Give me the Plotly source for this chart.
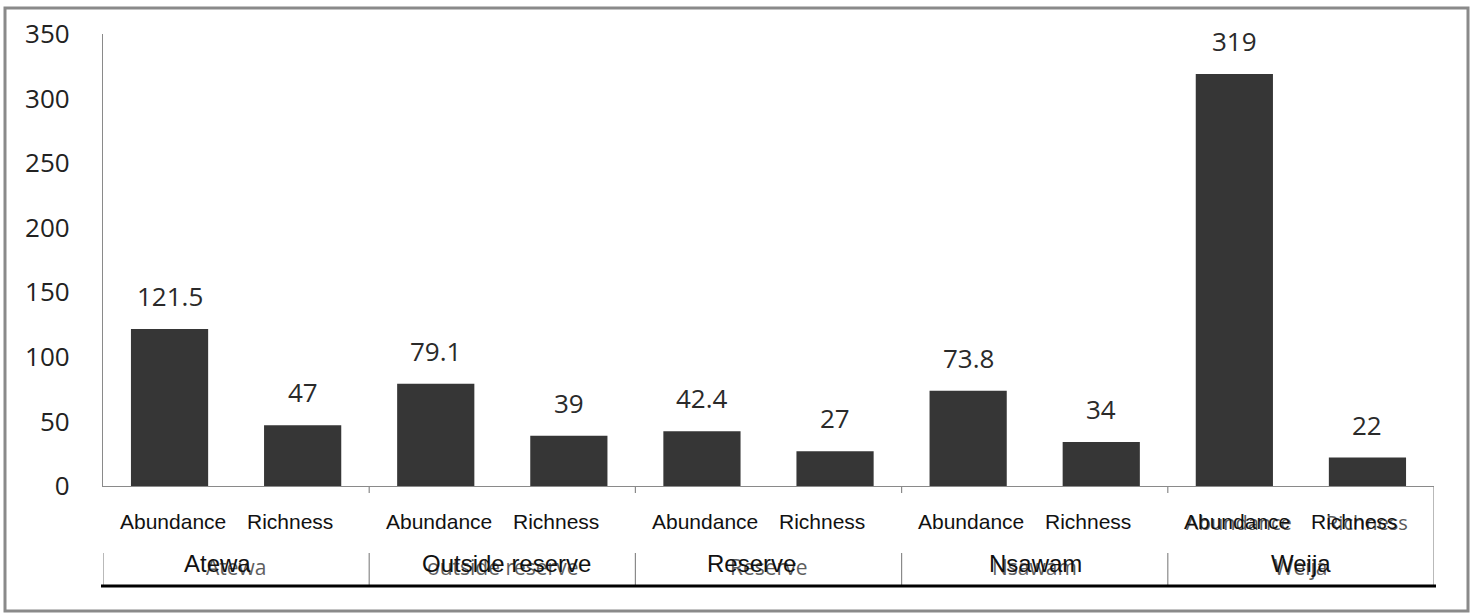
import plotly.graph_objects as go

# Survey results per site
sites = ["Atewa", "Outside reserve", "Reserve", "Nsawam", "Weija"]
measures = ["Abundance", "Richness"]
abundance = [121.5, 79.1, 42.4, 73.8, 319]
richness = [47, 39, 27, 34, 22]
y_ticks = [0, 50, 100, 150, 200, 250, 300, 350]

# Lower-case site captions printed faintly beneath the main site captions
site_shadow = ["Atewa", "outside reserve", "Reserve", "Nsawam", "Weija"]

W, H = 1473, 616
L, R, T, B = 103, 1434, 34, 486

def px(x):
    return (x - L) / (R - L)

def py(y):
    return (B - y) / (B - T)

# one bar per site/measure pair, in site order
cats, vals = [], []
for s, a, r in zip(sites, abundance, richness):
    cats += [f"{s}|{measures[0]}", f"{s}|{measures[1]}"]
    vals += [a, r]

fig = go.Figure()
fig.add_trace(go.Bar(
    x=cats, y=vals,
    marker=dict(color="#363636", line=dict(width=0)),
    width=0.58,
    hoverinfo="x+y",
))

ann = []
# value labels above bars
for c, v in zip(cats, vals):
    ann.append(dict(x=c, y=v, xref="x", yref="y", text=f"{v:g}",
                    showarrow=False, yanchor="bottom", yshift=13,
                    font=dict(family="Open Sans", size=26, color="#2a2a2a")))

# faint duplicate measure names in the last group (drawn first, underneath)
shadow_shift = {measures[0]: 5, measures[1]: 0}
for m in measures:
    ann.append(dict(x=f"{sites[-1]}|{m}", y=py(522), xref="x", yref="paper", text=m,
                    showarrow=False, yanchor="middle", xshift=shadow_shift[m],
                    font=dict(family="Open Sans", size=20, color="#5a5a5a")))

# measure names under each bar
measure_shift = {measures[0]: 3, measures[1]: -13}
for c in cats:
    m = c.split("|")[1]
    ann.append(dict(x=c, y=py(521), xref="x", yref="paper", text=m,
                    showarrow=False, yanchor="middle", xshift=measure_shift[m],
                    font=dict(family="Liberation Sans", size=21, color="#111")))

# site captions
site_shift = [-19, 4, -17, 1, 0]
for i, (s, sh) in enumerate(zip(sites, site_shadow)):
    ann.append(dict(x=2 * i + 0.5, y=py(567), xref="x", yref="paper", text=sh,
                    showarrow=False, yanchor="middle",
                    font=dict(family="Open Sans", size=21, color="#5e5e5e")))
    ann.append(dict(x=2 * i + 0.5, y=py(563), xref="x", yref="paper", text=s,
                    showarrow=False, yanchor="middle", xshift=site_shift[i],
                    font=dict(family="Liberation Sans", size=24, color="#111")))

shapes = []
# outer frame
shapes.append(dict(type="rect", xref="paper", yref="paper",
                   x0=px(5), x1=px(1468), y0=py(611), y1=py(8),
                   line=dict(color="#8a8a8a", width=3), fillcolor="rgba(0,0,0,0)",
                   layer="below"))
# group dividers: short ticks below the axis and lines in the site row
for i in range(len(sites) + 1):
    xc = 2 * i - 0.5
    if 0 < i < len(sites):
        shapes.append(dict(type="line", xref="x", yref="paper", x0=xc, x1=xc,
                           y0=py(486), y1=py(493), line=dict(color="#8a8a8a", width=1.2)))
    y_top = 486 if i == len(sites) else 553
    shapes.append(dict(type="line", xref="x", yref="paper", x0=xc, x1=xc,
                       y0=py(y_top), y1=py(586), line=dict(color="#8a8a8a", width=1.2)))
# heavy rule under the site row
shapes.append(dict(type="line", xref="paper", yref="paper", x0=px(101), x1=px(1436),
                   y0=py(586), y1=py(586), line=dict(color="#000", width=3)))

fig.update_layout(
    width=W, height=H,
    margin=dict(l=L, r=W - R, t=T, b=H - B),
    paper_bgcolor="white", plot_bgcolor="white",
    showlegend=False,
    annotations=ann,
    shapes=shapes,
    xaxis=dict(type="category", categoryorder="array", categoryarray=cats,
               showticklabels=False, showgrid=False, zeroline=False,
               showline=True, linecolor="#8a8a8a", linewidth=1.2,
               range=[-0.5, len(cats) - 0.5], fixedrange=True),
    yaxis=dict(range=[0, 350], tickvals=y_ticks, showgrid=False, zeroline=False,
               showline=True, linecolor="#8a8a8a", linewidth=1.2,
               ticks="", ticklabelstandoff=27,
               tickfont=dict(family="Open Sans", size=26, color="#222"),
               fixedrange=True),
)

fig.write_html("out.html")
